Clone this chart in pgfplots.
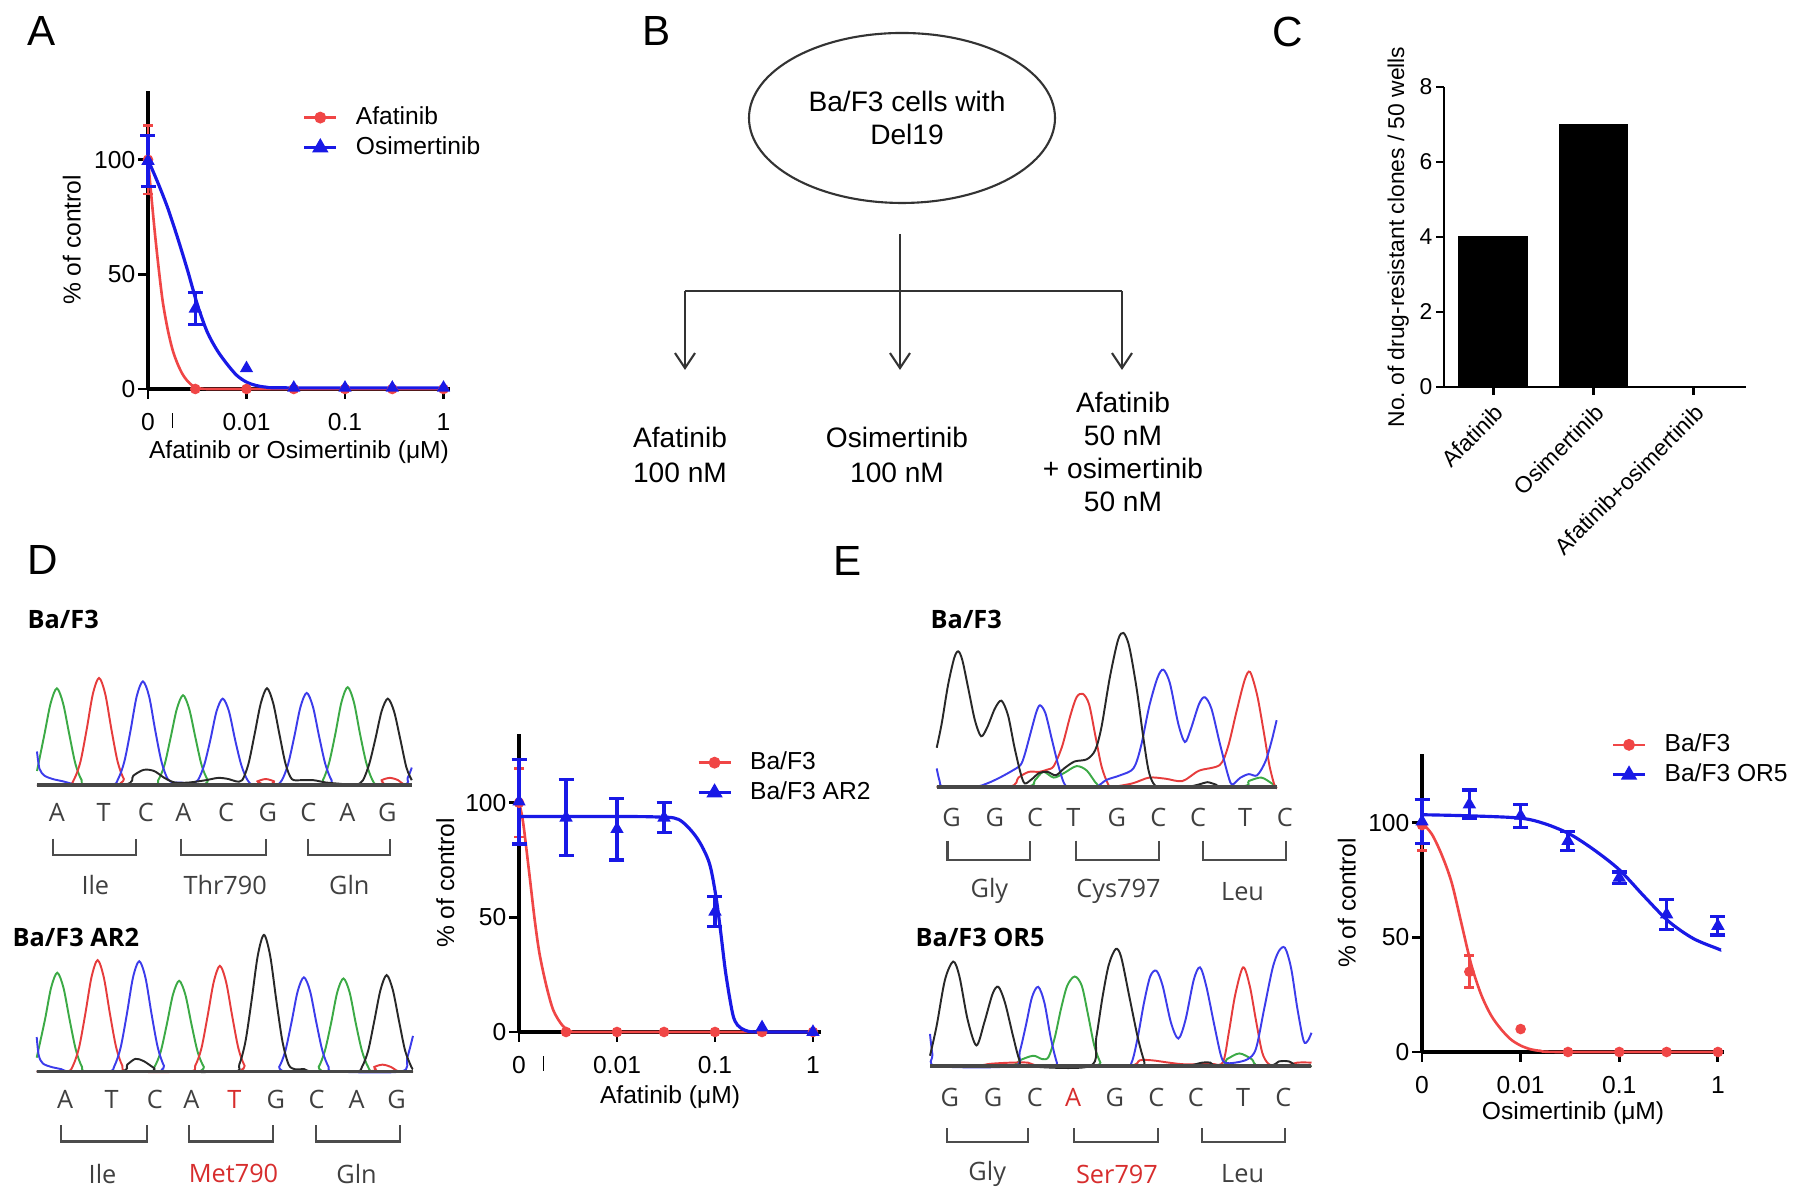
\documentclass[border=0pt]{standalone}
\usepackage{fontspec}
\setmainfont{Liberation Sans}
\newfontfamily\seqfont{Open Sans}
\usepackage{pgfplots}
\pgfplotsset{compat=1.18}
\usetikzlibrary{arrows.meta}

\definecolor{fitred}{RGB}{240,70,70}
\definecolor{fitblue}{RGB}{25,25,230}
\definecolor{trgreen}{RGB}{60,170,70}
\definecolor{trred}{RGB}{230,60,60}
\definecolor{trblue}{RGB}{60,60,235}
\definecolor{trblack}{RGB}{40,40,40}
\definecolor{mutred}{RGB}{215,45,45}

\pgfplotsset{
  dose/.style={
    scale only axis, width=30.2mm, height=29.8mm,
    axis lines=left, axis line style={-, line width=0.9pt},
    xmin=-3, ymin=0, ymax=130,
    xtick={-3,-2,-1,0}, xticklabels={0,0.01,0.1,1},
    ytick={0,50,100},
    tick style={black, line width=0.8pt}, major tick length=1mm, tick align=outside,
    tick label style={font=\fontsize{7}{8.4}\selectfont},
    xticklabel style={yshift=-0.2mm},
    yticklabel style={inner sep=0.2mm},
    label style={font=\fontsize{7}{8.4}\selectfont},
    ylabel={\% of control},
    /pgf/number format/assume math mode=true,
    clip=false,
    legend style={draw=none, fill=none, font=\fontsize{7}{8.4}\selectfont,
      anchor=north west, inner sep=0pt, row sep=0.2mm,
      nodes={text height=1.8mm, text depth=0.4mm, inner sep=0.3mm},
      /tikz/every odd column/.append style={column sep=1.5mm}},
    legend cell align=left,
    legend image code/.code={\draw[mark repeat=2, mark phase=2, ##1] plot coordinates {(0mm,0mm) (1.6mm,0mm) (3.2mm,0mm)};},
  },
  redfit/.style={fitred, line width=0.75pt, smooth, no marks, legend image post style={mark=*, mark size=1.3pt}},
  bluefit/.style={fitblue, line width=0.9pt, smooth, no marks, legend image post style={mark=triangle*, mark size=1.8pt}},
  reddat/.style={fitred, only marks, mark=*, mark size=1.3pt, forget plot},
  bluedat/.style={fitblue, only marks, mark=triangle*, mark size=1.8pt, forget plot},
  rederr/.style={reddat, error bars/.cd, y dir=both, y explicit, error bar style={line width=0.75pt}, error mark options={rotate=90, mark size=0.5mm, line width=0.75pt}},
  blueerr/.style={bluedat, error bars/.cd, y dir=both, y explicit, error bar style={line width=0.9pt}, error mark options={rotate=90, mark size=0.75mm, line width=0.9pt}},
  brk/.style={extra x ticks={-2.75}, extra x tick labels={\raisebox{0.1mm}{\rule{0.45pt}{1.45mm}}},
    extra x tick style={tick style={draw=none}}},
  seq/.style={scale only axis, hide axis, clip=false, ymin=0},
  trace/.style={line width=0.55pt, smooth, no marks},
  base/.style={black!72, line width=1pt},
  bracket/.style={black!70, line width=0.6pt},
}
\tikzset{
  seqtxt/.style={font=\seqfont\fontsize{7.2}{8.6}\selectfont, text=black!75, inner sep=0pt},
  seqhead/.style={font=\seqfont\bfseries\fontsize{7.2}{8.6}\selectfont, anchor=west, inner sep=0pt},
  panel/.style={font=\fontsize{12}{14}\selectfont, inner sep=0pt},
  flow/.style={line width=0.6pt, black!80},
}

\begin{document}
\begin{tikzpicture}
\path[use as bounding box] (0,0) rectangle (179.5mm,119.9mm);

% panel letters
\node[panel] at (4.2mm,116.8mm) {A};
\node[panel] at (65.7mm,116.8mm) {B};
\node[panel] at (128.8mm,116.7mm) {C};
\node[panel] at (4.25mm,63.9mm) {D};
\node[panel] at (84.8mm,63.8mm) {E};

%-- A: dose response
\begin{axis}[dose, brk, at={(14.8mm,81.0mm)}, anchor=south west, xmax=0.066,
  xlabel={Afatinib or Osimertinib (μM)},
  xlabel style={at={(axis description cs:0.5,-0.211)}, anchor=center},
  ylabel style={at={(axis description cs:-0.252,0.5)}, anchor=center},
  legend style={at={(0.51,0.96)}}]
\addplot[redfit] coordinates {(-3,100) (-2.97,86) (-2.93,68) (-2.89,52) (-2.85,38) (-2.8,26) (-2.75,17) (-2.7,11) (-2.65,6.5) (-2.6,3.5) (-2.55,1.5) (-2.5,0.5) (-2.4,0) (-2,0) (0,0)};
\addlegendentry{Afatinib}
\addplot[bluefit] coordinates {(-3,100) (-2.9,90) (-2.8,79) (-2.7,66) (-2.6,52) (-2.5,37) (-2.4,25) (-2.3,17) (-2.2,11) (-2.1,6) (-2,3) (-1.9,1.5) (-1.8,0.8) (-1.6,0.5) (0,0.5)};
\addlegendentry{Osimertinib}
\addplot[reddat] coordinates {(-2.52,0) (-2,0) (-1.52,0) (-1,0) (-0.52,0) (0,0)};
\addplot[bluedat] coordinates {(-2,9) (-1.52,0.5) (-1,0.5) (-0.52,0.5) (0,0.5)};
\addplot[rederr] coordinates {(-3,100) +- (0,15)};
\addplot[blueerr] coordinates {(-3,99.5) +- (0,11) (-2.52,35) +- (0,7)};
\end{axis}

%-- B: flow chart
\draw[flow] (90.2mm,108.1mm) ellipse [x radius=15.3mm, y radius=8.5mm];
\node[align=center, font=\fontsize{8}{9.3}\selectfont] at (90.7mm,108.1mm) {Ba/F3 cells with\\Del19};
\draw[flow] (90mm,96.5mm) -- (90mm,90.8mm);
\draw[flow] (68.5mm,90.8mm) -- (112.2mm,90.8mm);
\foreach \x in {68.5,90,112.2}
  \draw[flow, -{Straight Barb[length=1.5mm,width=2mm]}] (\x mm,90.8mm) -- (\x mm,82.9mm);
\node[align=center, font=\fontsize{8}{9.7}\selectfont] at (68.0mm,74.4mm) {Afatinib\\100 nM};
\node[align=center, font=\fontsize{8}{9.7}\selectfont] at (89.7mm,74.4mm) {Osimertinib\\100 nM};
\node[align=center, font=\fontsize{8}{9.4}\selectfont] at (112.3mm,74.7mm) {Afatinib\\50 nM\\+ osimertinib\\50 nM};

%-- C: bar chart
\begin{axis}[at={(144.4mm,81.2mm)}, anchor=south west,
  scale only axis, width=30.2mm, height=30mm,
  axis lines=left, axis line style={-, line width=0.8pt},
  xmin=-0.49, xmax=2.52, ymin=0, ymax=8,
  xtick={0,1,2}, xticklabels={Afatinib,Osimertinib,Afatinib+osimertinib},
  ytick={0,2,4,6,8},
  tick style={black, line width=0.8pt}, major tick length=0.8mm, tick align=outside,
  tick label style={font=\fontsize{6.5}{7.8}\selectfont},
  xticklabel style={rotate=45, anchor=north east, inner sep=0.5mm},
  yticklabel style={inner sep=0.3mm},
  ylabel={No.\ of drug-resistant clones / 50 wells},
  ylabel style={at={(axis description cs:-0.152,0.5)}, anchor=center, font=\fontsize{6.5}{7.8}\selectfont},
  /pgf/number format/assume math mode=true]
\addplot[ybar, bar width=6.8mm, fill=black, draw=black] coordinates {(0,4) (1,7) (2,0)};
\end{axis}

%-- D: chromatogram Ba/F3
\node[seqhead] at (2.7mm,58.0mm) {Ba/F3};
\begin{axis}[seq, at={(3.7mm,41.42mm)}, anchor=south west, width=37.48mm, height=12.63mm,
  xmin=-0.48, xmax=8.58, ymax=110]
\addplot[trace, trgreen] coordinates {(-0.48,12) (-0.3,44) (-0.15,71) (0,84) (0.15,71) (0.3,44) (0.45,18) (0.6,4) (0.75,0) (2.3,0) (2.45,4) (2.6,17) (2.75,41) (2.9,66) (3.05,78) (3.2,66) (3.35,41) (3.5,17) (3.65,4) (3.8,0) (6.28,0) (6.43,4) (6.58,19) (6.73,44) (6.88,72) (7.03,85) (7.18,72) (7.33,44) (7.48,19) (7.63,4) (7.78,0) (8.58,0)};
\addplot[trace, trred] coordinates {(-0.48,0) (0.27,0) (0.42,5) (0.57,20) (0.72,48) (0.87,79) (1.02,93) (1.17,79) (1.32,48) (1.47,20) (1.62,5) (1.77,0) (4.7,0) (4.85,3) (5.05,5) (5.25,3) (5.4,0) (7.7,0) (7.85,4) (8.05,6) (8.25,4) (8.4,0) (8.58,0)};
\addplot[trace, trblue] coordinates {(-0.48,29) (-0.42,14) (-0.3,8) (-0.1,5) (0.15,3) (0.35,1) (0.5,0) (1.33,0) (1.48,5) (1.63,20) (1.78,47) (1.93,77) (2.08,90) (2.23,77) (2.38,47) (2.53,20) (2.68,5) (2.83,2) (3.0,2) (3.15,1) (3.26,1) (3.41,4) (3.56,17) (3.71,39) (3.86,64) (4.01,75) (4.16,64) (4.31,39) (4.46,17) (4.61,4) (4.76,0) (5.29,0) (5.44,4) (5.59,18) (5.74,42) (5.89,68) (6.04,80) (6.19,68) (6.34,42) (6.49,18) (6.64,4) (6.79,0) (8.35,0) (8.48,6) (8.58,15)};
\addplot[trace, trblack] coordinates {(-0.48,0) (1.6,0) (1.85,8) (2.1,13) (2.35,12) (2.6,6) (2.85,2) (3.2,2) (3.6,4) (3.9,6) (4.15,5) (4.33,3) (4.48,4) (4.63,18) (4.78,44) (4.93,71) (5.08,84) (5.23,71) (5.38,44) (5.53,18) (5.68,5) (5.9,4) (6.2,4) (6.5,2) (6.8,1) (7.1,0) (7.25,0) (7.4,4) (7.55,18) (7.7,40) (7.85,64) (8.0,75) (8.15,64) (8.3,40) (8.45,15) (8.58,4)};
\addplot[base] coordinates {(-0.48,0) (8.58,0)};
\node[seqtxt] at (axis cs:0,-24) {A};
\node[seqtxt] at (axis cs:1.13,-24) {T};
\node[seqtxt] at (axis cs:2.15,-24) {C};
\node[seqtxt] at (axis cs:3.06,-24) {A};
\node[seqtxt] at (axis cs:4.09,-24) {C};
\node[seqtxt] at (axis cs:5.1,-24) {G};
\node[seqtxt] at (axis cs:6.08,-24) {C};
\node[seqtxt] at (axis cs:7.02,-24) {A};
\node[seqtxt] at (axis cs:7.99,-24) {G};
\addplot[bracket] coordinates {(-0.1,-47) (-0.1,-61) (1.92,-61) (1.92,-47)};
\addplot[bracket] coordinates {(3.0,-47) (3.0,-61) (5.05,-61) (5.05,-47)};
\addplot[bracket] coordinates {(6.08,-47) (6.08,-61) (8.06,-61) (8.06,-47)};
\node[seqtxt] at (axis cs:0.93,-87) {Ile};
\node[seqtxt] at (axis cs:4.07,-87) {Thr790};
\node[seqtxt] at (axis cs:7.07,-87) {Gln};
\end{axis}

%-- D: chromatogram Ba/F3 AR2
\node[seqhead] at (1.2mm,26.2mm) {Ba/F3 AR2};
\begin{axis}[seq, at={(3.67mm,12.75mm)}, anchor=south west, width=37.63mm, height=14.35mm,
  xmin=-0.5, xmax=8.64, ymax=125]
\addplot[trace, trgreen] coordinates {(-0.5,12) (-0.3,45) (-0.15,73) (0,86) (0.15,73) (0.3,45) (0.45,19) (0.6,4) (0.75,0) (2.21,0) (2.36,4) (2.51,17) (2.66,41) (2.81,67) (2.96,79) (3.11,67) (3.26,41) (3.41,17) (3.56,4) (3.71,0) (6.2,0) (6.35,4) (6.5,18) (6.65,42) (6.8,69) (6.95,81) (7.1,69) (7.25,42) (7.4,18) (7.55,4) (7.7,0) (8.64,0)};
\addplot[trace, trred] coordinates {(-0.5,0) (0.23,0) (0.38,5) (0.53,21) (0.68,50) (0.83,82) (0.98,97) (1.13,82) (1.28,50) (1.43,21) (1.58,5) (1.73,0) (3.2,0) (3.35,5) (3.5,20) (3.65,48) (3.8,78) (3.95,92) (4.1,78) (4.25,48) (4.4,20) (4.55,5) (4.7,0) (7.5,0) (7.7,4) (7.9,6) (8.1,4) (8.3,0) (8.64,0)};
\addplot[trace, trblue] coordinates {(-0.5,30) (-0.45,14) (-0.35,7) (-0.15,4) (0.1,2) (0.3,0) (1.24,0) (1.39,5) (1.54,21) (1.69,50) (1.84,82) (1.99,96) (2.14,82) (2.29,50) (2.44,21) (2.59,5) (2.74,0) (5.24,0) (5.39,4) (5.54,18) (5.69,43) (5.84,70) (5.99,82) (6.14,70) (6.29,43) (6.44,18) (6.59,4) (6.74,0) (8.35,0) (8.5,12) (8.64,31)};
\addplot[trace, trblack] coordinates {(-0.5,0) (1.5,0) (1.7,6) (1.9,11) (2.1,9) (2.35,3) (2.5,0) (4.27,0) (4.42,6) (4.57,26) (4.72,62) (4.87,101) (5.02,119) (5.17,101) (5.32,62) (5.47,26) (5.62,6) (5.77,2) (6.0,2) (6.2,0) (7.25,0) (7.4,4) (7.55,18) (7.7,44) (7.85,71) (8.0,84) (8.15,71) (8.3,44) (8.45,18) (8.6,4) (8.64,2)};
\addplot[base] coordinates {(-0.5,0) (8.64,0)};
\node[seqtxt] at (axis cs:0.19,-24) {A};
\node[seqtxt] at (axis cs:1.32,-24) {T};
\node[seqtxt] at (axis cs:2.37,-24) {C};
\node[seqtxt] at (axis cs:3.26,-24) {A};
\node[seqtxt, text=mutred] at (axis cs:4.3,-24) {T};
\node[seqtxt] at (axis cs:5.31,-24) {G};
\node[seqtxt] at (axis cs:6.3,-24) {C};
\node[seqtxt] at (axis cs:7.27,-24) {A};
\node[seqtxt] at (axis cs:8.24,-24) {G};
\addplot[bracket] coordinates {(0.1,-47) (0.1,-61) (2.17,-61) (2.17,-47)};
\addplot[bracket] coordinates {(3.2,-47) (3.2,-61) (5.25,-61) (5.25,-47)};
\addplot[bracket] coordinates {(6.28,-47) (6.28,-61) (8.32,-61) (8.32,-47)};
\node[seqtxt] at (axis cs:1.1,-89) {Ile};
\node[seqtxt, text=mutred] at (axis cs:4.28,-89) {Met790};
\node[seqtxt] at (axis cs:7.27,-89) {Gln};
\end{axis}

%-- D: dose response afatinib
\begin{axis}[dose, brk, at={(51.9mm,16.7mm)}, anchor=south west, xmax=0.082,
  xlabel={Afatinib (μM)},
  xlabel style={at={(axis description cs:0.5,-0.219)}, anchor=center},
  ylabel style={at={(axis description cs:-0.244,0.5)}, anchor=center},
  legend style={at={(0.587,0.953)}}]
\addplot[redfit] coordinates {(-3,100) (-2.96,92) (-2.9,71) (-2.84,49) (-2.79,34) (-2.72,20) (-2.65,9.5) (-2.56,3) (-2.48,0.5) (-2.4,0) (0,0)};
\addlegendentry{Ba/F3}
\addplot[bluefit] coordinates {(-3,94) (-2,94) (-1.6,93.8) (-1.37,92.7) (-1.19,85) (-1.06,74) (-0.99,59) (-0.94,43) (-0.89,25.5) (-0.82,8) (-0.77,3) (-0.69,0.7) (-0.57,0) (0,0)};
\addlegendentry{Ba/F3 AR2}
\addplot[reddat] coordinates {(-2.52,0) (-2,0) (-1.52,0) (-1,0) (-0.52,0) (0,0)};
\addplot[bluedat] coordinates {(-0.52,2) (0,0)};
\addplot[rederr] coordinates {(-3,100) +- (0,15)};
\addplot[blueerr] coordinates {(-3,100.5) +- (0,18.5) (-2.52,93.5) +- (0,16.5) (-2,88.5) +- (0,13.5) (-1.52,93.5) +- (0,6.5) (-1,52.5) +- (0,6.5)};
\end{axis}

%-- E: chromatogram Ba/F3
\node[seqhead] at (93.0mm,58.0mm) {Ba/F3};
\begin{axis}[seq, at={(93.67mm,41.22mm)}, anchor=south west, width=33.99mm, height=16.07mm,
  xmin=-0.52, xmax=7.67, ymax=140]
\addplot[trace, trgreen] coordinates {(-0.52,0) (1.6,0) (1.85,6) (2.05,13) (2.3,8) (2.55,12) (2.85,18) (3.1,14) (3.35,2) (3.6,0) (6.7,0) (7.0,5) (7.3,8) (7.55,3) (7.67,0)};
\addplot[trace, trred] coordinates {(-0.52,0) (1.2,0) (1.45,8) (1.7,13) (1.95,13) (2.15,15) (2.3,18) (2.5,35) (2.7,62) (2.85,78) (3.0,81) (3.15,72) (3.3,45) (3.45,18) (3.6,3) (3.7,0) (4.2,3) (4.6,8) (5.0,7) (5.4,5) (5.8,14) (6.3,19) (6.5,35) (6.7,65) (6.9,93) (7.03,100) (7.2,80) (7.35,50) (7.5,18) (7.63,0) (7.67,0)};
\addplot[trace, trblue] coordinates {(-0.52,16) (-0.45,5) (-0.35,0) (0.4,0) (0.7,3) (1.0,8) (1.3,14) (1.5,19) (1.6,28) (1.75,48) (1.88,65) (1.97,71) (2.1,64) (2.25,42) (2.4,20) (2.55,3) (2.7,0) (3.3,0) (3.57,6) (3.9,10) (4.22,16) (4.4,35) (4.6,70) (4.8,95) (4.94,102) (5.1,90) (5.3,55) (5.46,39) (5.6,50) (5.8,72) (5.94,78) (6.1,68) (6.3,38) (6.5,10) (6.6,2) (6.8,8) (7.0,11) (7.2,10) (7.4,22) (7.55,40) (7.67,58)};
\addplot[trace, trblack] coordinates {(-0.52,34) (-0.4,55) (-0.25,88) (-0.1,112) (0,118) (0.1,110) (0.25,84) (0.4,58) (0.55,44) (0.7,52) (0.88,68) (1.04,75) (1.2,62) (1.35,35) (1.5,12) (1.6,3) (1.75,6) (1.95,12) (2.15,13) (2.35,10) (2.55,16) (2.8,22) (3.1,24) (3.3,32) (3.45,52) (3.65,95) (3.85,128) (3.98,134) (4.12,122) (4.3,85) (4.45,45) (4.58,15) (4.7,3) (4.85,0) (5.5,0) (5.8,2) (6.0,4) (6.2,2) (6.4,0) (7.67,0)};
\addplot[base] coordinates {(-0.52,0) (7.67,0)};
\node[seqtxt] at (axis cs:-0.16,-27) {G};
\node[seqtxt] at (axis cs:0.88,-27) {G};
\node[seqtxt] at (axis cs:1.85,-27) {C};
\node[seqtxt] at (axis cs:2.77,-27) {T};
\node[seqtxt] at (axis cs:3.82,-27) {G};
\node[seqtxt] at (axis cs:4.82,-27) {C};
\node[seqtxt] at (axis cs:5.78,-27) {C};
\node[seqtxt] at (axis cs:6.91,-27) {T};
\node[seqtxt] at (axis cs:7.87,-27) {C};
\addplot[bracket] coordinates {(-0.26,-47) (-0.26,-64) (1.73,-64) (1.73,-47)};
\addplot[bracket] coordinates {(2.83,-47) (2.83,-64) (4.84,-64) (4.84,-47)};
\addplot[bracket] coordinates {(5.9,-47) (5.9,-64) (7.9,-64) (7.9,-47)};
\node[seqtxt] at (axis cs:0.75,-91) {Gly};
\node[seqtxt] at (axis cs:3.86,-91) {Cys797};
\node[seqtxt] at (axis cs:6.85,-91) {Leu};
\end{axis}

%-- E: chromatogram Ba/F3 OR5
\node[seqhead] at (91.5mm,26.2mm) {Ba/F3 OR5};
\begin{axis}[seq, at={(93.0mm,13.29mm)}, anchor=south west, width=38.15mm, height=12.63mm,
  xmin=-0.56, xmax=8.64, ymax=110]
\addplot[trace, trgreen] coordinates {(-0.56,0) (1.3,0) (1.6,5) (1.93,9) (2.15,6) (2.3,8) (2.45,25) (2.6,50) (2.75,70) (2.93,78) (3.1,70) (3.25,45) (3.4,18) (3.55,3) (3.65,0) (6.3,0) (6.6,6) (6.9,11) (7.2,6) (7.4,0) (8.64,0)};
\addplot[trace, trred] coordinates {(-0.56,0) (0.5,0) (0.9,2) (1.4,3) (1.8,3) (2.2,0) (4.2,0) (4.5,5) (4.8,5) (5.2,3) (5.6,1.5) (6.2,2) (6.5,3) (6.65,30) (6.8,62) (6.99,86) (7.15,70) (7.3,40) (7.45,12) (7.6,2) (7.8,0) (8.0,0) (8.3,3) (8.64,3)};
\addplot[trace, trblue] coordinates {(-0.56,28) (-0.5,10) (-0.4,0) (1.45,0) (1.6,12) (1.75,35) (1.9,60) (2.05,69) (2.2,55) (2.35,25) (2.5,3) (2.6,0) (4.1,0) (4.3,3) (4.45,25) (4.6,55) (4.75,78) (4.9,83) (5.05,70) (5.25,38) (5.43,24) (5.6,40) (5.8,75) (5.95,86) (6.1,70) (6.3,35) (6.45,10) (6.55,3) (6.8,3) (7.1,6) (7.3,15) (7.5,50) (7.7,85) (7.85,100) (8.0,103) (8.15,85) (8.3,50) (8.45,22) (8.55,22) (8.64,29)};
\addplot[trace, trblack] coordinates {(-0.56,9) (-0.4,35) (-0.2,75) (0,91) (0.15,78) (0.35,40) (0.56,18) (0.75,38) (0.95,63) (1.09,69) (1.25,55) (1.45,25) (1.6,5) (1.75,0) (3.3,0) (3.45,25) (3.6,60) (3.75,88) (3.92,102) (4.05,95) (4.25,60) (4.45,25) (4.6,5) (4.7,0) (5.6,0) (6.0,3) (6.2,3) (6.4,0) (7.6,0) (7.85,4) (8.1,4) (8.3,0) (8.64,0)};
\addplot[base] coordinates {(-0.56,0) (8.64,0)};
\node[seqtxt] at (axis cs:-0.08,-27) {G};
\node[seqtxt] at (axis cs:0.96,-27) {G};
\node[seqtxt] at (axis cs:1.97,-27) {C};
\node[seqtxt, text=mutred] at (axis cs:2.89,-27) {A};
\node[seqtxt] at (axis cs:3.9,-27) {G};
\node[seqtxt] at (axis cs:4.9,-27) {C};
\node[seqtxt] at (axis cs:5.85,-27) {C};
\node[seqtxt] at (axis cs:6.99,-27) {T};
\node[seqtxt] at (axis cs:7.96,-27) {C};
\addplot[bracket] coordinates {(-0.14,-54) (-0.14,-66) (1.81,-66) (1.81,-54)};
\addplot[bracket] coordinates {(2.92,-54) (2.92,-66) (4.94,-66) (4.94,-54)};
\addplot[bracket] coordinates {(5.99,-54) (5.99,-66) (8.0,-66) (8.0,-54)};
\node[seqtxt] at (axis cs:0.82,-94) {Gly};
\node[seqtxt, text=mutred] at (axis cs:3.95,-94) {Ser797};
\node[seqtxt] at (axis cs:6.98,-94) {Leu};
\end{axis}

%-- E: dose response osimertinib
\begin{axis}[dose, at={(142.2mm,14.7mm)}, anchor=south west, xmax=0.062,
  xlabel={Osimertinib (μM)},
  xlabel style={at={(axis description cs:0.5,-0.204)}, anchor=center},
  ylabel style={at={(axis description cs:-0.249,0.5)}, anchor=center},
  legend style={at={(0.625,1.08)}}]
\addplot[redfit] coordinates {(-3,100) (-2.9,95) (-2.8,86) (-2.7,74) (-2.6,56) (-2.5,38) (-2.4,25) (-2.3,16) (-2.2,10) (-2.1,5.5) (-2,2.8) (-1.9,1.2) (-1.8,0.5) (-1.6,0) (0,0)};
\addlegendentry{Ba/F3}
\addplot[bluefit] coordinates {(-3,103.5) (-2.5,103) (-2,102) (-1.75,99.5) (-1.5,95) (-1.25,88) (-1,79.5) (-0.75,68) (-0.5,57) (-0.25,49.5) (0,45) (0.03,44.5)};
\addlegendentry{Ba/F3 OR5}
\addplot[reddat] coordinates {(-2,10) (-1.52,0) (-1,0) (-0.52,0) (0,0)};
\addplot[rederr] coordinates {(-3,99) +- (0,11) (-2.52,35) +- (0,7)};
\addplot[blueerr] coordinates {(-3,100.5) +- (0,9.5) (-2.52,108) +- (0,6.3) (-2,103) +- (0,5) (-1.52,92) +- (0,4) (-1,76) +- (0,2.5) (-0.52,60) +- (0,6.5) (0,55) +- (0,4)};
\end{axis}
\end{tikzpicture}
\end{document}
